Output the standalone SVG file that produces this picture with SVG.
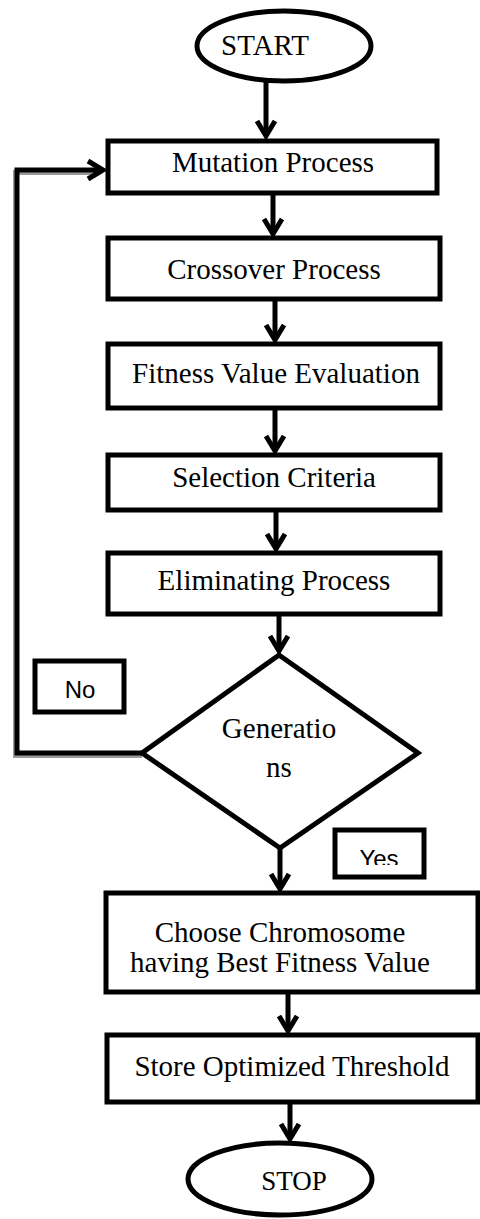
<svg xmlns="http://www.w3.org/2000/svg" width="480" height="1219" viewBox="0 0 480 1219">
  <style>
    .shape { fill: #ffffff; stroke: #000000; stroke-width: 5; }
    .label { font-family: "Liberation Serif", "Times New Roman", serif; font-size: 29px; fill: #000000; text-anchor: middle; }
    .tag { font-family: "Liberation Sans", Arial, sans-serif; font-size: 24px; fill: #000000; text-anchor: middle; }
    .flow { fill: none; stroke: #000000; stroke-width: 5; marker-end: url(#head); }
    .loop { fill: none; stroke: #000000; stroke-width: 5; stroke-linejoin: miter; }
    .loop-shadow { fill: none; stroke: #9a9a9a; stroke-width: 5; }
  </style>
  <defs>
    <!-- open V arrowhead -->
    <marker id="head" markerUnits="userSpaceOnUse" markerWidth="40" markerHeight="40" viewBox="-20 -20 40 40" refX="0" refY="0" orient="auto" overflow="visible">
      <path d="M -15 -9 L 0 0 L -15 9" fill="none" stroke="#000000" stroke-width="5" stroke-linejoin="miter"/>
    </marker>
    <clipPath id="yesClip">
      <rect x="333" y="828" width="92" height="37"/>
    </clipPath>
  </defs>

  <rect width="480" height="1219" fill="#ffffff"/>

  <!-- connectors -->
  <g id="connectors">
    <path class="flow" d="M 266 82 L 266 136"/>
    <path class="flow" d="M 273 193 L 273 234"/>
    <path class="flow" d="M 275 299 L 275 340"/>
    <path class="flow" d="M 275 408 L 275 451"/>
    <path class="flow" d="M 276 510 L 276 549"/>
    <path class="flow" d="M 279 614 L 279 651"/>
    <path class="flow" d="M 280 848 L 280 889"/>
    <path class="flow" d="M 288 992 L 288 1031"/>
    <path class="flow" d="M 290 1102 L 290 1139"/>
    <!-- "No" loop back to Mutation Process -->
    <path class="loop-shadow" d="M 142 755.5 L 15.5 755.5 L 15.5 172.5 L 98 172.5"/>
    <path class="loop" d="M 142 753 L 17 753 L 17 170 L 100 170"/>
    <path d="M 88 161 L 103 170 L 88 179" fill="none" stroke="#000000" stroke-width="5"/>
  </g>

  <g id="start">
    <ellipse class="shape" cx="284" cy="46" rx="87" ry="35"/>
    <text class="label" x="265" y="55">START</text>
  </g>

  <g id="mutation">
    <rect class="shape" x="108" y="141" width="329" height="52"/>
    <text class="label" x="273" y="172">Mutation Process</text>
  </g>

  <g id="crossover">
    <rect class="shape" x="108" y="238" width="332" height="61"/>
    <text class="label" x="274" y="279">Crossover Process</text>
  </g>

  <g id="fitness">
    <rect class="shape" x="108" y="344" width="332" height="64"/>
    <text class="label" x="276" y="383">Fitness Value Evaluation</text>
  </g>

  <g id="selection">
    <rect class="shape" x="108" y="455" width="332" height="55"/>
    <text class="label" x="274" y="487">Selection Criteria</text>
  </g>

  <g id="eliminating">
    <rect class="shape" x="108" y="553" width="332" height="61"/>
    <text class="label" x="274" y="590">Eliminating Process</text>
  </g>

  <g id="generations">
    <polygon class="shape" points="279,655 418,753 280,848 142,753"/>
    <text class="label" x="279" y="738">Generatio</text>
    <text class="label" x="279" y="777">ns</text>
  </g>

  <g id="no-label">
    <rect class="shape" x="35" y="661" width="89" height="51"/>
    <text class="tag" x="80" y="698">No</text>
  </g>

  <g id="yes-label">
    <rect class="shape" x="335" y="830" width="89" height="47"/>
    <text class="tag" x="379" y="867" clip-path="url(#yesClip)">Yes</text>
  </g>

  <g id="choose">
    <rect class="shape" x="106" y="893" width="372" height="99"/>
    <text class="label" x="280" y="942">Choose Chromosome</text>
    <text class="label" x="280" y="972">having Best Fitness Value</text>
  </g>

  <g id="store">
    <rect class="shape" x="107" y="1035" width="371" height="67"/>
    <text class="label" x="292" y="1076">Store Optimized Threshold</text>
  </g>

  <g id="stop">
    <ellipse class="shape" cx="280" cy="1179" rx="92" ry="36"/>
    <text class="label" x="294" y="1190" style="font-size:27px">STOP</text>
  </g>
</svg>
